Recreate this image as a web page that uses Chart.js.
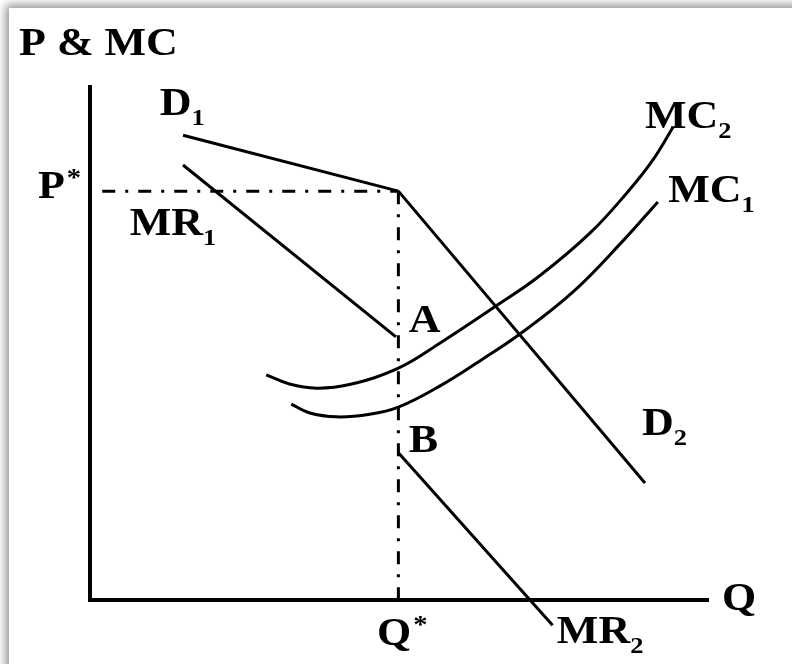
<!DOCTYPE html>
<html>
<head>
<meta charset="utf-8">
<script src="https://cdn.jsdelivr.net/npm/chart.js@4.4.1/dist/chart.umd.min.js"></script>
<style>
  html, body { margin: 0; padding: 0; background: #fff; overflow: hidden; }
  #card {
    position: absolute; left: 9px; top: 8px; width: 900px; height: 800px;
    background: #fff; box-shadow: 0 0 9px 3px rgba(0, 0, 0, 0.45);
  }
  #kinkChart { position: absolute; left: 0; top: 0; }
  #fontWarm { position: absolute; left: -999px; font: bold 40px "Liberation Serif"; }
</style>
</head>
<body>
<div id="card"></div>
<span id="fontWarm">P &amp; MC Q* 12</span>
<canvas id="kinkChart" width="792" height="664"></canvas>
<script>
// quantity (x) and price / MC (y), both on a 0..100 scale
const d1Q = [15.2, 50.4];
const d1P = [90.6, 79.7];
const d2Q = [50.4, 90.7];
const d2P = [79.7, 22.8];
const mr1Q = [15.2, 50.0];
const mr1P = [84.8, 51.3];
const mr2Q = [50.4, 75.6];
const mr2P = [28.7, -4.9];
const mc2Q = [28.8, 32.6, 37.0, 42.4, 50.4, 57.1, 66.1, 73.5, 81.7, 87.7, 92.0, 95.3];
const mc2P = [43.9, 42.1, 41.3, 42.0, 45.2, 50.0, 57.1, 63.2, 71.5, 79.3, 85.8, 92.2];
const mc1Q = [32.9, 35.8, 40.3, 45.7, 50.4, 57.0, 64.2, 70.2, 78.9, 87.1, 92.8];
const mc1P = [38.2, 36.5, 35.7, 36.2, 37.6, 41.6, 47.0, 51.8, 60.0, 70.0, 77.6];
const qStar = 50.4;
const pStar = 79.7;
const pGuideQ = [2.0, qStar];
const pGuideP = [pStar, pStar];
const qGuideQ = [qStar, qStar];
const qGuideP = [pStar, 0];

// text labels, anchored in data units
const labelText = ['P & MC', 'P', 'D', 'MR', 'A', 'B', 'MC', 'MC', 'D', 'Q', 'Q', 'MR'];
const labelSub  = ['', '', '1', '1', '', '', '2', '1', '2', '', '', '2'];
const labelSup  = ['', '*', '', '', '', '', '', '', '', '', '*', ''];
const labelQ    = [-11.6, -8.5, 11.4, 6.5, 52.1, 52.1, 90.7, 94.5, 90.2, 103.3, 46.9, 76.3];
const labelP    = [106.2, 78.4, 94.5, 71.2, 52.2, 28.8, 92.0, 77.6, 32.2, -1.9, -8.8, -8.4];

const FONT = '"Liberation Serif", "Times New Roman", serif';

const toPoints = (q, p) => q.map((v, i) => ({ x: v, y: p[i] }));

function lineSet(q, p, dashed, curved) {
    return {
        data: toPoints(q, p),
        borderColor: '#000',
        borderWidth: 3,
        borderDash: dashed ? [13, 10, 3, 10] : [],
        pointRadius: 0,
        fill: false,
        clip: false,
        tension: curved ? 0.4 : 0
    };
}

function drawText(ctx, str, x, y, size) {
    ctx.save();
    ctx.fillStyle = '#000';
    ctx.textBaseline = 'alphabetic';
    ctx.font = 'bold ' + size + 'px ' + FONT;
    ctx.translate(x, y);
    ctx.scale(1.1, 1);
    ctx.fillText(str, 0, 0);
    const w = ctx.measureText(str).width * 1.1;
    ctx.restore();
    return w;
}

const labelPlugin = {
    id: 'curveLabels',
    afterDatasetsDraw(chart) {
        const { ctx, scales: { x, y } } = chart;
        labelText.forEach((t, i) => {
            const px = x.getPixelForValue(labelQ[i]);
            const py = y.getPixelForValue(labelP[i]);
            const w = drawText(ctx, t, px, py, 40);
            if (labelSub[i]) drawText(ctx, labelSub[i], px + w, py + 10, 24);
            if (labelSup[i]) drawText(ctx, labelSup[i], px + w + 2, py - 12, 26);
        });
    }
};

const axisOpts = {
    type: 'linear',
    grid: { display: false, drawTicks: false, tickLength: 0 },
    ticks: { display: false },
    border: { display: true, color: '#000', width: 4 }
};

function drawChart() {
    new Chart(document.getElementById('kinkChart').getContext('2d'), {
        type: 'line',
        data: {
            datasets: [
                lineSet(d1Q, d1P, false, false),
                lineSet(d2Q, d2P, false, false),
                lineSet(mr1Q, mr1P, false, false),
                lineSet(mr2Q, mr2P, false, false),
                lineSet(mc2Q, mc2P, false, true),
                lineSet(mc1Q, mc1P, false, true),
                lineSet(pGuideQ, pGuideP, true, false),
                lineSet(qGuideQ, qGuideP, true, false)
            ]
        },
        options: {
            responsive: false,
            animation: false,
            devicePixelRatio: 1,
            layout: { autoPadding: false, padding: { left: 90, top: 87, right: 84, bottom: 64 } },
            plugins: {
                legend: { display: false },
                tooltip: { enabled: false }
            },
            scales: {
                x: { ...axisOpts, min: 0, max: 101 },
                y: { ...axisOpts, min: 0, max: 100 }
            }
        },
        plugins: [labelPlugin]
    });
}

Promise.all([
    document.fonts.load('bold 40px "Liberation Serif"'),
    document.fonts.load('bold 24px "Liberation Serif"')
]).then(drawChart, drawChart);
</script>
</body>
</html>
